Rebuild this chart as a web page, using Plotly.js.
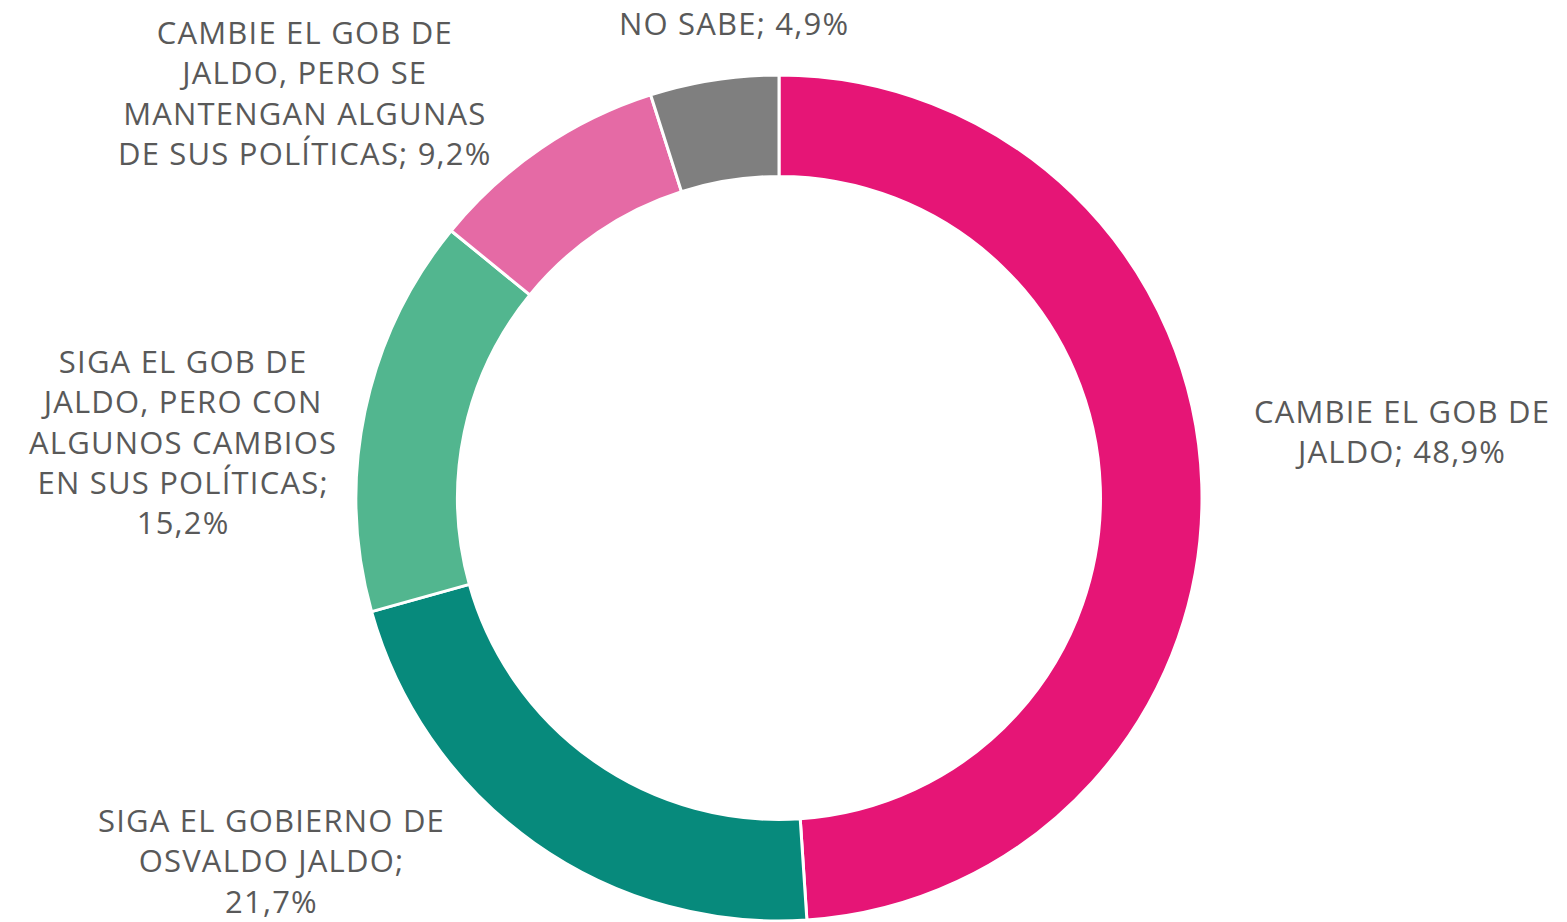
<!DOCTYPE html>
<html>
<head>
<meta charset="utf-8">
<script src="https://cdn.plot.ly/plotly-3.0.1.min.js"></script>
<style>html,body{margin:0;padding:0;background:#fff;}#chart{width:1567px;height:922px;}
.annotation-text{letter-spacing:1.2px;}</style>
</head>
<body>
<div id="chart"></div>
<script>
const categories = [
  "CAMBIE EL GOB DE<br>JALDO",
  "SIGA EL GOBIERNO DE<br>OSVALDO JALDO;",
  "SIGA EL GOB DE<br>JALDO, PERO CON<br>ALGUNOS CAMBIOS<br>EN SUS POLÍTICAS;",
  "CAMBIE EL GOB DE<br>JALDO, PERO SE<br>MANTENGAN ALGUNAS<br>DE SUS POLÍTICAS",
  "NO SABE"
];
const values = [48.9, 21.7, 15.2, 9.2, 4.9];
const valueLabels = ["48,9%", "21,7%", "15,2%", "9,2%", "4,9%"];
const labelSeparators = ["; ", "<br>", "<br>", "; ", "; "];
const colors = ["#E61576", "#078A7C", "#52B68F", "#E56AA5", "#7F7F7F"];

const W = 1567, H = 922;
const cx = 779, cy = 498, R = 423;

const labelPos = [
  [1402, 431],
  [271, 860],
  [183, 442],
  [305, 92],
  [734, 23]
];

const annotations = categories.map((c, i) => ({
  xref: 'paper', yref: 'paper',
  x: labelPos[i][0] / W, y: 1 - labelPos[i][1] / H,
  xanchor: 'center', yanchor: 'middle',
  text: c.replace(/;$/, '') + (labelSeparators[i] === '<br>' ? ';<br>' : labelSeparators[i]) + valueLabels[i],
  showarrow: false,
  align: 'center',
  font: {family: '"Open Sans", Roboto, sans-serif', size: 31, color: '#595959'}
}));

const trace = {
  type: 'pie',
  labels: categories,
  values: values,
  hole: 0.76,
  sort: false,
  direction: 'clockwise',
  rotation: 0,
  textinfo: 'none',
  hoverinfo: 'label+percent',
  marker: {colors: colors, line: {color: '#ffffff', width: 3}},
  domain: {x: [(cx - R) / W, (cx + R) / W], y: [(H - cy - R) / H, (H - cy + R) / H]}
};

Plotly.newPlot('chart', [trace], {
  width: W, height: H,
  margin: {l: 0, r: 0, t: 0, b: 0},
  showlegend: false,
  paper_bgcolor: '#ffffff',
  annotations: annotations
}, {displayModeBar: false, staticPlot: true});
</script>
</body>
</html>
